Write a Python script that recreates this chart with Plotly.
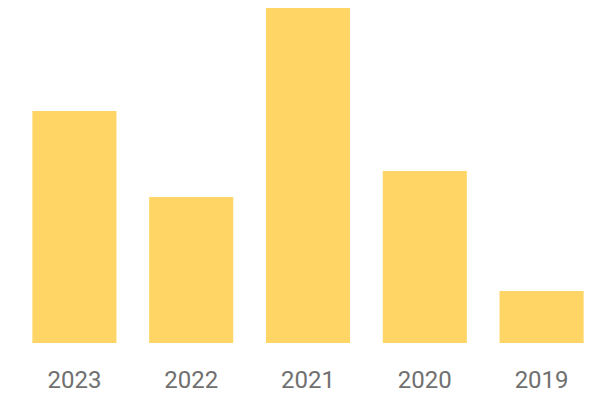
import plotly.graph_objects as go

years = ["2023", "2022", "2021", "2020", "2019"]
values = [232, 146, 335, 172, 52]

fig = go.Figure(go.Bar(x=years, y=values, marker=dict(color="#FFD666", line=dict(width=0)),
                       hoverinfo="x+y"))
fig.update_layout(
    width=592, height=392,
    margin=dict(l=8, r=0, t=0, b=57),
    paper_bgcolor="white", plot_bgcolor="white",
    bargap=0.28,
    showlegend=False,
    xaxis=dict(showgrid=False, showline=False, ticks="", ticklabelstandoff=20,
               tickfont=dict(family="Roboto", size=24, color="#707070")),
    yaxis=dict(visible=False, range=[0, 335]),
)
fig.write_html("out.html")
